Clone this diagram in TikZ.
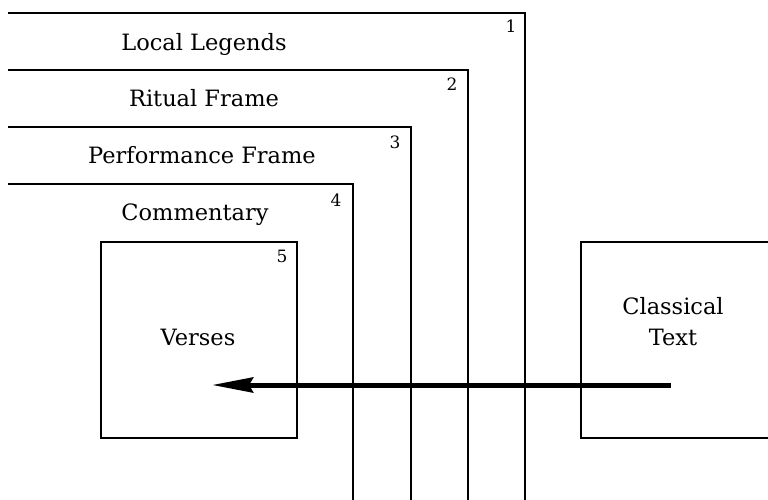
\documentclass[tikz,border=0pt]{standalone}
\usepackage{fontspec}
\setmainfont{DejaVu Serif}
\usetikzlibrary{arrows.meta}
\begin{document}
\begin{tikzpicture}[x=1pt,y=-1pt,
  frame/.style={line width=2.8pt, line join=miter},
  label/.style={font=\fontsize{22.5}{31}\selectfont, anchor=base, inner sep=0pt},
  numlabel/.style={font=\fontsize{17}{20}\selectfont, anchor=base, inner sep=0pt},
  flow/.style={line width=5pt, -{Stealth[length=41pt,width=15pt,inset=4pt]}}]
\useasboundingbox (0,0) rectangle (768,500);
\fill[white] (0,0) rectangle (768,500);
% nested frames (top edge from the left, right edge down past the bottom)
\draw[frame] (8,13)  -- (525,13)  -- (525,504);
\draw[frame] (8,70)  -- (468,70)  -- (468,504);
\draw[frame] (8,127) -- (411,127) -- (411,504);
\draw[frame] (8,184) -- (353,184) -- (353,504);
% frame labels
\node[label] (ll) at (204,51)  {Local Legends};
\node[label] (rf) at (204,107) {Ritual Frame};
\node[label] (pf) at (202,163) {Performance Frame};
\node[label] (cm) at (195,220) {Commentary};
\node[numlabel] (n1) at (511,33)  {1};
\node[numlabel] (n2) at (452,91)  {2};
\node[numlabel] (n3) at (395,148) {3};
\node[numlabel] (n4) at (336,206) {4};
\node[numlabel] (n5) at (282,262) {5};
% verses box
\draw[frame] (101,242) rectangle (297,438);
\node[label] (vs) at (198,345) {Verses};
% classical text box (open to the right)
\draw[frame] (772,242) -- (581,242) -- (581,438) -- (772,438);
\node[label, align=center, anchor=center] (ct) at (673,322) {Classical\\Text};
% arrow
\coordinate (astart) at (671,385);
\coordinate (aend) at (212,385);
\draw[flow] (astart) -- (aend);
\end{tikzpicture}
\end{document}
